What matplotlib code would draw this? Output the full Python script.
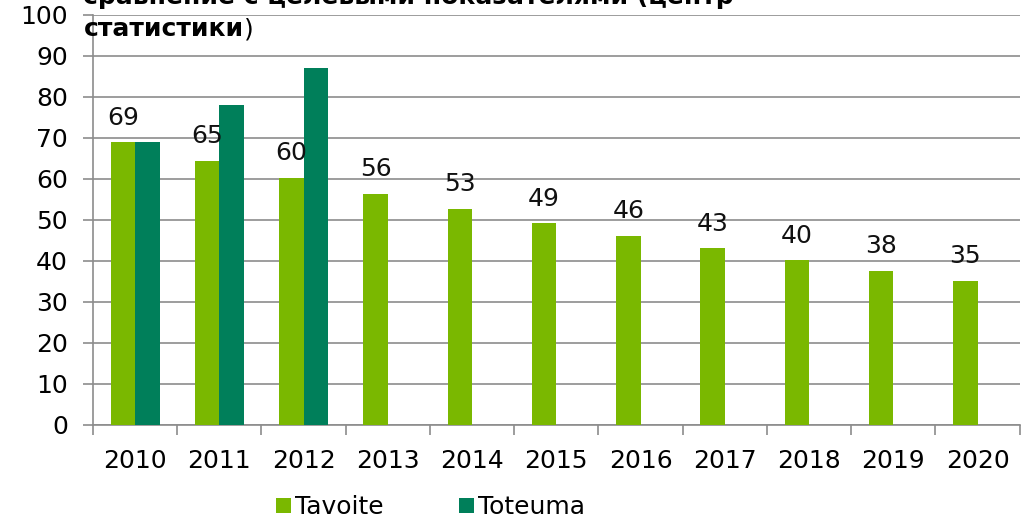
import numpy as np
import matplotlib.pyplot as plt

# donnees
years = ['2010', '2011', '2012', '2013', '2014', '2015', '2016', '2017', '2018', '2019', '2020']
tavoite = [69, 64.5, 60.3, 56.4, 52.7, 49.2, 46.1, 43.1, 40.2, 37.6, 35.2]
toteuma = [69, 78, 87]
tavoite_labels = ['69', '65', '60', '56', '53', '49', '46', '43', '40', '38', '35']

light = '#7AB800'
dark = '#007F5A'
grid_col = '#8C8C8C'
fs = 18

plt.rcParams['font.family'] = ['DejaVu Sans']

fig = plt.figure(figsize=(10.3, 5.2), dpi=100)
ax = fig.add_axes([0.0903, 0.1827, 0.8997, 0.7885])

x = np.arange(len(years))
w = 0.29
ax.bar(x - w / 2, tavoite, width=w, color=light, label='Tavoite', zorder=3)
ax.bar(x[:len(toteuma)] + w / 2, toteuma, width=w, color=dark, label='Toteuma', zorder=3)

for xi, v, lab in zip(x, tavoite, tavoite_labels):
    ax.annotate(lab, (xi - w / 2, v), xytext=(0, 9), textcoords='offset points',
                ha='center', va='bottom', fontsize=fs, color='#111111')

ax.set_ylim(0, 100)
ax.set_xlim(-0.5, len(years) - 0.5)
ax.set_yticks(range(0, 101, 10))
ax.set_yticklabels([str(v) for v in range(0, 101, 10)], fontsize=fs)
ax.yaxis.grid(True, color=grid_col, linewidth=1.2, zorder=0)

# graduations entre les categories
ax.set_xticks(np.arange(-0.5, len(years)), minor=False)
ax.set_xticklabels([])
ax.set_xticks(x, minor=True)
ax.set_xticklabels(years, minor=True, fontsize=fs)
ax.tick_params(axis='x', which='major', length=7, color=grid_col, width=1.2, direction='out')
ax.tick_params(axis='x', which='minor', length=0, pad=17)
ax.tick_params(axis='y', length=7, color=grid_col, width=1.2, pad=11)

for s in ['top', 'right']:
    ax.spines[s].set_visible(False)
for s in ['left', 'bottom']:
    ax.spines[s].set_color(grid_col)
    ax.spines[s].set_linewidth(1.2)

leg = fig.legend(loc='lower center', bbox_to_anchor=(0.418, -0.042), ncol=2, frameon=False,
                 fontsize=fs, handlelength=0.6, handleheight=0.6, handletextpad=0.15,
                 columnspacing=3.0)

# titre coupe en haut
fig.text(0.081, 0.993, 'сравнение с целевыми показателями (центр', fontsize=fs,
         fontweight='bold', va='baseline', ha='left')
t2 = fig.text(0.081, 0.93, 'статистики', fontsize=fs, fontweight='bold',
              va='baseline', ha='left')
ax.annotate(')', xy=(1, 0), xycoords=t2, fontsize=fs, va='bottom', ha='left',
            annotation_clip=False)

fig.savefig('out.png', dpi=100)
